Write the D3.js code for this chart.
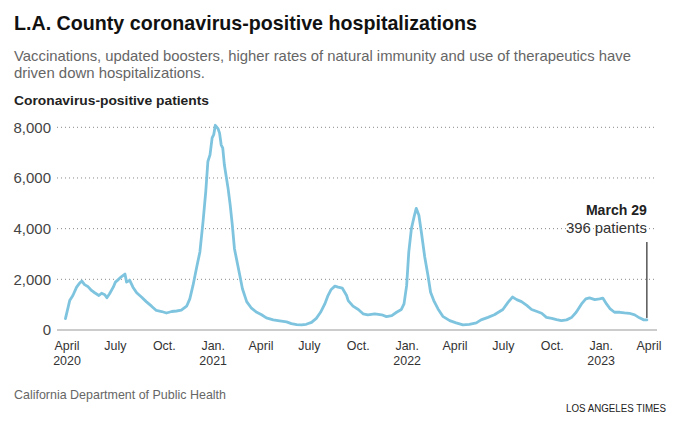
<!DOCTYPE html>
<html>
<head>
<meta charset="utf-8">
<script src="https://cdn.jsdelivr.net/npm/d3@7"></script>
<style>
  html, body { margin: 0; padding: 0; background: #fff; }
  svg { display: block; }
  text { font-family: "Liberation Sans", Arial, "Helvetica Neue", sans-serif; }
</style>
</head>
<body>
<svg id="chart" width="688" height="424"></svg>
<script>
// ---- data ----
const dates = [
  "2020-03-30","2020-04-07","2020-04-13","2020-04-20","2020-04-26","2020-04-30","2020-05-05","2020-05-11",
  "2020-05-18","2020-05-24","2020-06-01","2020-06-06","2020-06-12","2020-06-16","2020-06-21","2020-06-28",
  "2020-07-02","2020-07-08","2020-07-13","2020-07-20","2020-07-23","2020-07-29","2020-08-04","2020-08-11",
  "2020-08-20","2020-08-29","2020-09-08","2020-09-17","2020-09-27","2020-10-06","2020-10-16","2020-10-25",
  "2020-11-03","2020-11-13","2020-11-19","2020-11-25","2020-12-02","2020-12-08","2020-12-14","2020-12-19",
  "2020-12-23","2020-12-27","2020-12-31","2021-01-03","2021-01-06","2021-01-11","2021-01-14","2021-01-17",
  "2021-01-20","2021-01-23","2021-01-30","2021-02-03","2021-02-07","2021-02-11","2021-02-16","2021-02-21",
  "2021-02-26","2021-03-06","2021-03-15","2021-03-25","2021-04-03","2021-04-12","2021-04-25","2021-05-07",
  "2021-05-20","2021-05-29","2021-06-08","2021-06-17","2021-06-26","2021-07-06","2021-07-15","2021-07-23",
  "2021-07-31","2021-08-06","2021-08-12","2021-08-19","2021-08-25","2021-09-02","2021-09-10","2021-09-13",
  "2021-09-22","2021-10-02","2021-10-11","2021-10-20","2021-11-02","2021-11-15","2021-11-24","2021-12-04",
  "2021-12-13","2021-12-22","2021-12-27","2022-01-01","2022-01-05","2022-01-10","2022-01-15","2022-01-19",
  "2022-01-24","2022-01-29","2022-02-04","2022-02-10","2022-02-15","2022-02-21","2022-03-01","2022-03-10",
  "2022-03-23","2022-04-04","2022-04-17","2022-04-29","2022-05-12","2022-05-21","2022-06-03","2022-06-15",
  "2022-07-01","2022-07-11","2022-07-19","2022-07-27","2022-08-05","2022-08-15","2022-08-24","2022-09-02",
  "2022-09-12","2022-09-21","2022-10-01","2022-10-10","2022-10-19","2022-10-29","2022-11-07","2022-11-16",
  "2022-11-26","2022-12-04","2022-12-11","2022-12-21","2022-12-30","2023-01-05","2023-01-12","2023-01-19",
  "2023-01-27","2023-02-06","2023-02-15","2023-02-24","2023-03-06","2023-03-15","2023-03-23","2023-03-29"
];
const patients = [
  450,1160,1360,1690,1860,1930,1790,1720,
  1560,1470,1360,1450,1390,1270,1430,1690,
  1890,2000,2100,2210,1890,1960,1690,1470,
  1300,1120,940,770,730,670,730,750,
  780,940,1230,1760,2490,3080,4300,5460,
  6650,6910,7580,7710,8080,7950,7770,7310,
  7180,6520,5590,4930,4140,3210,2680,2160,
  1630,1120,860,700,600,480,400,360,
  320,250,210,200,225,300,460,700,
  1030,1360,1600,1730,1690,1650,1360,1160,
  940,810,640,600,640,600,530,570,
  700,810,1030,1760,3080,4010,4470,4800,
  4530,3810,2880,2160,1490,1160,830,540,
  370,280,200,225,280,400,500,600,
  810,1100,1300,1200,1120,970,810,740,
  660,500,460,410,370,400,490,700,
  1030,1230,1270,1200,1230,1260,1030,830,
  700,700,675,660,595,480,400,396
];
const yTicks = [0, 2000, 4000, 6000, 8000];
const xTickDates = ["2020-04-01","2020-07-01","2020-10-01","2021-01-01","2021-04-01","2021-07-01",
  "2021-10-01","2022-01-01","2022-04-01","2022-07-01","2022-10-01","2023-01-01","2023-04-01"];
const xTickMonths = ["April","July","Oct.","Jan.","April","July","Oct.","Jan.","April","July","Oct.","Jan.","April"];
const xTickYears  = ["2020","","","2021","","","","2022","","","","2023",""];

const title = "L.A. County coronavirus-positive hospitalizations";
const subtitle = ["Vaccinations, updated boosters, higher rates of natural immunity and use of therapeutics have",
                  "driven down hospitalizations."];
const yTitle = "Coronavirus-positive patients";
const source = "California Department of Public Health";
const credit = "LOS ANGELES TIMES";
const annoDate = "March 29";
const annoText = "396 patients";

// ---- drawing ----
const parse = d3.timeParse("%Y-%m-%d");
const data = dates.map((d, i) => ({ date: parse(d), value: patients[i] }));

const svg = d3.select("#chart");
const plotLeft = 57, plotRight = 657;

// squeeze a text to a given width (the reference uses a condensed face)
function fitWidth(sel, w) {
  sel.attr("textLength", w).attr("lengthAdjust", "spacingAndGlyphs");
  return sel;
}
function squeeze(sel, k) {
  sel.each(function() {
    const n = this.getComputedTextLength();
    d3.select(this).attr("textLength", n * k).attr("lengthAdjust", "spacingAndGlyphs");
  });
  return sel;
}

const x = d3.scaleTime()
  .domain([parse("2020-04-01"), parse("2023-04-01")])
  .range([66.5, 648.5]);
const y = d3.scaleLinear().domain([0, 8000]).range([330, 127.3]);

// title & texts
fitWidth(svg.append("text").attr("x", 14).attr("y", 30)
  .attr("font-size", 21).attr("font-weight", "bold").attr("fill", "#111").text(title), 463);
const subW = [617, 191];
subtitle.forEach((s, i) => {
  fitWidth(svg.append("text").attr("x", 14).attr("y", 61 + i * 17)
    .attr("font-size", 14.5).attr("fill", "#666").text(s), subW[i]);
});
fitWidth(svg.append("text").attr("x", 14).attr("y", 105)
  .attr("font-size", 13.5).attr("font-weight", "bold").attr("fill", "#222").text(yTitle), 195);

// y grid + labels
const yAxis = d3.axisLeft(y).tickValues(yTicks).tickFormat(d3.format(",")).tickSize(0).tickPadding(6);
const gy = svg.append("g").attr("transform", `translate(${plotLeft},0)`).call(yAxis);
gy.select(".domain").remove();
gy.selectAll("text").attr("font-size", 15).attr("fill", "#444")
  .style("font-family", '"Liberation Sans", Arial, sans-serif');
svg.append("g").selectAll("line").data(yTicks.filter(d => d > 0)).join("line")
  .attr("x1", plotLeft).attr("x2", plotRight)
  .attr("y1", d => y(d)).attr("y2", d => y(d))
  .attr("stroke", "#888").attr("stroke-width", 1).attr("stroke-dasharray", "1,3");

// baseline
svg.append("line").attr("x1", plotLeft).attr("x2", plotRight)
  .attr("y1", y(0)).attr("y2", y(0)).attr("stroke", "#999").attr("stroke-width", 1);

// x axis labels
const xAxis = d3.axisBottom(x).tickValues(xTickDates.map(parse)).tickSize(0).tickPadding(0).tickFormat("");
const gx = svg.append("g").attr("transform", `translate(0,${y(0)})`).call(xAxis);
gx.select(".domain").remove();
gx.selectAll(".tick").each(function(d, i) {
  const t = d3.select(this);
  t.append("text").attr("y", 20).attr("text-anchor", "middle")
    .attr("font-size", 13.5).attr("fill", "#333").text(xTickMonths[i]);
  if (xTickYears[i]) {
    t.append("text").attr("y", 35).attr("text-anchor", "middle")
      .attr("font-size", 13.5).attr("fill", "#333").text(xTickYears[i]);
  }
});
squeeze(gx.selectAll(".tick text"), 0.92);

// line
const line = d3.line().x(d => x(d.date)).y(d => y(d.value)).curve(d3.curveLinear);
svg.append("path").datum(data).attr("d", line)
  .attr("fill", "none").attr("stroke", "#7ec4df").attr("stroke-width", 2.8)
  .attr("stroke-linejoin", "round").attr("stroke-linecap", "round");

// annotation
const last = data[data.length - 1];
svg.append("line").attr("x1", x(last.date)).attr("x2", x(last.date))
  .attr("y1", 242).attr("y2", y(last.value) - 2)
  .attr("stroke", "#000").attr("stroke-width", 1);
fitWidth(svg.append("text").attr("x", x(last.date)).attr("y", 215)
  .attr("text-anchor", "end").attr("font-size", 14).attr("font-weight", "bold").attr("fill", "#222").text(annoDate), 61);
fitWidth(svg.append("text").attr("x", x(last.date)).attr("y", 233)
  .attr("text-anchor", "end").attr("font-size", 15).attr("fill", "#333").text(annoText), 81);

// footer
fitWidth(svg.append("text").attr("x", 14).attr("y", 399)
  .attr("font-size", 13.5).attr("fill", "#666").text(source), 212);
fitWidth(svg.append("text").attr("x", 666).attr("y", 412)
  .attr("text-anchor", "end").attr("font-size", 10).attr("fill", "#222").text(credit), 100);
</script>
</body>
</html>
